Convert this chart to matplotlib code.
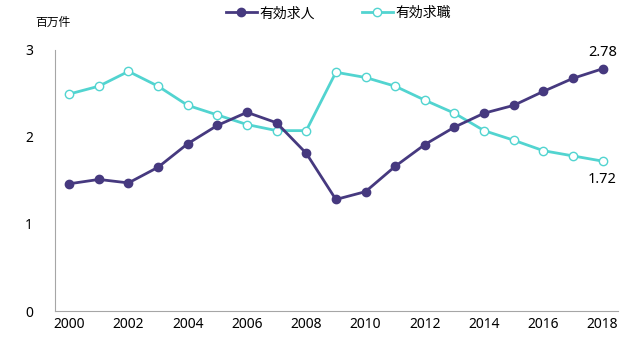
import matplotlib
matplotlib.use('Agg')
import matplotlib.pyplot as plt

plt.rcParams['font.family'] = ['Noto Sans', 'Noto Sans CJK JP']

years = list(range(2000, 2019))
# 有効求人 (millions)
openings = [1.46, 1.51, 1.47, 1.65, 1.92, 2.13, 2.28, 2.16, 1.81, 1.28,
            1.37, 1.66, 1.91, 2.11, 2.27, 2.36, 2.52, 2.67, 2.78]
# 有効求職 (millions)
seekers = [2.49, 2.58, 2.75, 2.58, 2.36, 2.25, 2.14, 2.07, 2.07, 2.74,
           2.68, 2.58, 2.42, 2.27, 2.07, 1.96, 1.84, 1.78, 1.72]
purple = '#46397f'
cyan = '#52d4d0'

fig = plt.figure(figsize=(6.4, 3.5), dpi=100)
ax = fig.add_axes([0.0859, 0.1114, 0.8797, 0.7469])

ax.plot(years, openings, color=purple, lw=2.0, marker='o', ms=6,
        mfc=purple, mec=purple, label='有効求人', zorder=3)
ax.plot(years, seekers, color=cyan, lw=2.0, marker='o', ms=6,
        mfc='white', mec=cyan, mew=1.0, label='有効求職', zorder=2)

ax.set_xlim(1999.52, 2018.52)
ax.set_ylim(0, 3)
ax.set_xticks(range(2000, 2019, 2))
ax.set_yticks([0, 1, 2, 3])
ax.tick_params(length=0, labelsize=10, colors='black')
ax.tick_params(axis='y', pad=16)
ax.tick_params(axis='x', pad=4)
for s in ['top', 'right']:
    ax.spines[s].set_visible(False)
for s in ['left', 'bottom']:
    ax.spines[s].set_color('#a6a6a6')
    ax.spines[s].set_linewidth(0.8)

ax.annotate(f'{openings[-1]:.2f}', (years[-1], openings[-1]), xytext=(0, 6),
            textcoords='offset points', ha='center', va='bottom', fontsize=10.5)
ax.annotate(f'{seekers[-1]:.2f}', (years[-1], seekers[-1]), xytext=(0, -8),
            textcoords='offset points', ha='center', va='top', fontsize=10.5)

fig.text(53 / 640, 1 - 22 / 350, '百万件', fontsize=8.5, ha='center', va='center',
         family=['Noto Sans CJK JP', 'DejaVu Sans'])
fig.legend(loc='center', bbox_to_anchor=(0.529, 0.962), ncol=2, frameon=False,
           prop={'family': ['Noto Sans CJK JP', 'DejaVu Sans'], 'size': 10},
           handlelength=2.2, handletextpad=0.2, columnspacing=3.4)

fig.savefig('out.png', dpi=100)
